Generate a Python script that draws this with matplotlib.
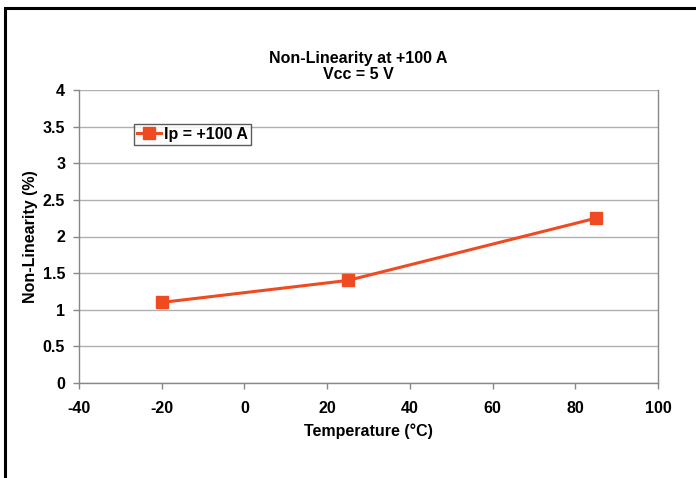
import matplotlib
matplotlib.use("Agg")
import matplotlib.pyplot as plt
from matplotlib.patches import Rectangle

temps = [-20, 25, 85]
nonlin = [1.1, 1.4, 2.25]
series_label = "Ip = +100 A"
title = "Non-Linearity at +100 A\nVcc = 5 V"
xlabel = "Temperature (°C)"
ylabel = "Non-Linearity (%)"
xticks = [-40, -20, 0, 20, 40, 60, 80, 100]
yticks = [0, 0.5, 1, 1.5, 2, 2.5, 3, 3.5, 4]
ytick_labels = ["0", "0.5", "1", "1.5", "2", "2.5", "3", "3.5", "4"]

plt.rcParams['font.family'] = ['Liberation Sans', 'DejaVu Sans']
plt.rcParams['font.weight'] = 'bold'
plt.rcParams['axes.unicode_minus'] = False

W, H = 696, 478
fs = 11.5
fig = plt.figure(figsize=(W/100, H/100), dpi=100)
ax = fig.add_axes([79/W, 1-383/H, (658-79)/W, (383-90)/H])

color = '#F04A23'
ax.plot(temps, nonlin, color=color, lw=2.2, marker='s', ms=8, label=series_label, zorder=3)

ax.set_xlim(-40, 100)
ax.set_ylim(0, 4)
ax.set_xticks(xticks)
ax.set_yticks(yticks)
ax.set_yticklabels(ytick_labels)
ax.grid(axis='y', color='#b0b0b0', lw=1)
for s in ['left', 'bottom', 'right']:
    ax.spines[s].set_color('#888888')
    ax.spines[s].set_linewidth(1)
ax.spines['top'].set_visible(False)
ax.tick_params(axis='both', colors='#888888', labelcolor='black', length=4, width=1,
               labelsize=fs)
ax.tick_params(axis='x', pad=9)
ax.tick_params(axis='y', pad=6)
for lab in ax.get_xticklabels() + ax.get_yticklabels():
    lab.set_fontweight('bold')

ax.set_xlabel(xlabel, fontsize=fs, fontweight='bold', labelpad=5)
ax.set_ylabel(ylabel, fontsize=fs, fontweight='bold', labelpad=3)

fig.text(358/W, 1-66.5/H, title, ha='center', va='center', fontsize=fs,
         fontweight='bold', linespacing=1.1)

leg = ax.legend(loc='upper left', bbox_to_anchor=(0.095, 0.885), frameon=True,
                fancybox=False, edgecolor='#333333', fontsize=fs, handlelength=1.5,
                handletextpad=0.2, borderpad=0.2, borderaxespad=0)
leg.get_frame().set_linewidth(1)
for t in leg.get_texts():
    t.set_fontweight('bold')

fig.patches.append(Rectangle((5/W, -0.1), 1.2, 1 - 8/H + 0.1, transform=fig.transFigure,
                             fill=False, edgecolor='black', lw=2.2, zorder=10))

fig.savefig('out.png', dpi=100)
